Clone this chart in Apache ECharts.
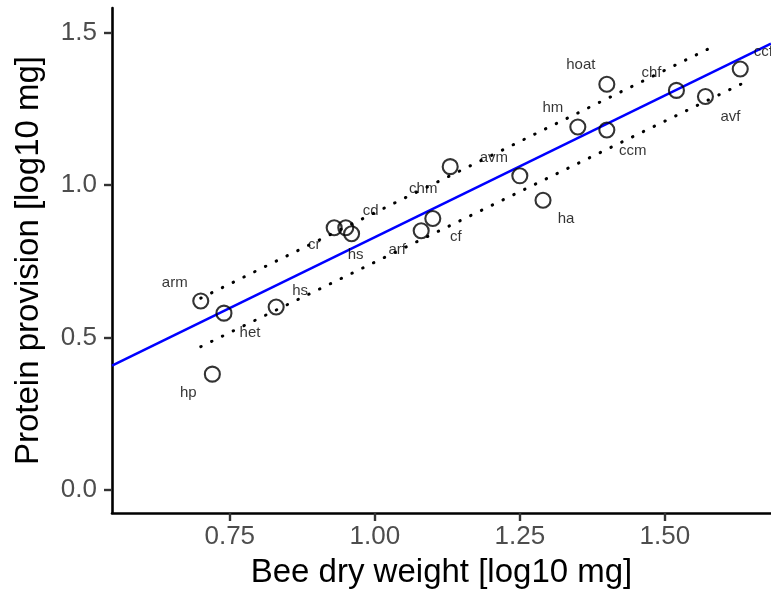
<!DOCTYPE html>
<html>
<head>
<meta charset="utf-8">
<script src="https://cdn.jsdelivr.net/npm/echarts@6/dist/echarts.min.js"></script>
<style>html,body{margin:0;padding:0;background:#fff}#c{width:771px;height:594px}</style>
</head>
<body>
<div id="c"></div>
<script>
// ---- data ----
const names   = ['arm','het','hp','hs','cr','cd','hs','arf','cf','chm','avm','ha','hm','hoat','ccm','chf','avf','ccf'];
const weight  = [0.70, 0.74, 0.72, 0.83, 0.93, 0.95, 0.96, 1.08, 1.10, 1.13, 1.25, 1.29, 1.35, 1.40, 1.40, 1.52, 1.57, 1.63];
const protein = [0.62, 0.58, 0.38, 0.60, 0.86, 0.86, 0.84, 0.85, 0.89, 1.06, 1.03, 0.95, 1.19, 1.33, 1.18, 1.31, 1.29, 1.38];
// fitted regression (blue line)
const fitIntercept = -0.100;
const fitSlope = 0.929;
// dotted lines: [x, y] endpoints
const upperDotted = [[0.70, 0.629], [1.59, 1.460]];
const lowerDotted = [[0.70, 0.470], [1.633, 1.332]];
const xTicks = [0.75, 1.00, 1.25, 1.50];
const yTicks = [0.0, 0.5, 1.0, 1.5];

// ---- label placement (pixel offsets, styling only) ----
const labelOffsets = [[-26,-18],[26,20],[-24,19],[24,-16],[-20,17],[25,-17],[4,21],[-24,19],[23,18],[-27,22],[-26,-18],[23,19],[-25,-19],[-26,-19],[26,21],[-25,-18],[25,20],[23,-17]];

const xMin = 0.547, xMax = 1.683, yMin = -0.075, yMax = 1.58;

const pts = names.map((n,i)=>({
  name:n, value:[weight[i], protein[i]],
  label:{offset:labelOffsets[i]}
}));
const fitLine = [[xMin, fitIntercept + fitSlope*xMin],[xMax, fitIntercept + fitSlope*xMax]];

const FONT = 'Liberation Sans';
const chart = echarts.init(document.getElementById('c'), null, {renderer:'canvas'});
const dotted = {color:'#000', width:3, type:[0.5,11.5], cap:'round'};
chart.setOption({
  animation:false,
  backgroundColor:'#fff',
  grid:{left:112, right:0, top:8, bottom:80, containLabel:false},
  xAxis:{
    type:'value', min:xMin, max:xMax,
    name:'Bee dry weight [log10 mg]', nameLocation:'middle', nameGap:43,
    nameTextStyle:{fontFamily:FONT, fontSize:33, color:'#000'},
    axisLine:{show:true, onZero:false, lineStyle:{color:'#000', width:2.6}},
    axisTick:{show:true, length:8, lineStyle:{color:'#333', width:2.4}, customValues:xTicks},
    axisLabel:{customValues:xTicks, formatter:v=>v.toFixed(2), fontFamily:FONT, fontSize:26, color:'#4D4D4D', margin:11},
    splitLine:{show:false}
  },
  yAxis:{
    type:'value', min:yMin, max:yMax,
    name:'Protein provision [log10 mg]', nameLocation:'middle', nameGap:67, nameRotate:90,
    nameTextStyle:{fontFamily:FONT, fontSize:33, color:'#000'},
    axisLine:{show:true, onZero:false, lineStyle:{color:'#000', width:2.6}},
    axisTick:{show:true, length:8, lineStyle:{color:'#333', width:2.4}, customValues:yTicks},
    axisLabel:{customValues:yTicks, formatter:v=>v.toFixed(1), fontFamily:FONT, fontSize:26, color:'#4D4D4D', margin:15},
    splitLine:{show:false}
  },
  series:[
    {type:'line', data:upperDotted, symbol:'none', lineStyle:dotted, silent:true, z:2},
    {type:'line', data:lowerDotted, symbol:'none', lineStyle:dotted, silent:true, z:2},
    {type:'line', data:fitLine, symbol:'none', lineStyle:{color:'#0000FF', width:2.6}, clip:true, silent:true, z:3},
    {type:'scatter', data:pts, symbol:'circle', symbolSize:15,
     itemStyle:{color:'rgba(0,0,0,0)', borderColor:'#000', borderWidth:2.1},
     label:{show:true, position:'inside', formatter:p=>p.name, fontFamily:FONT, fontSize:15, color:'#000'},
     z:4}
  ]
});
</script>
</body>
</html>
